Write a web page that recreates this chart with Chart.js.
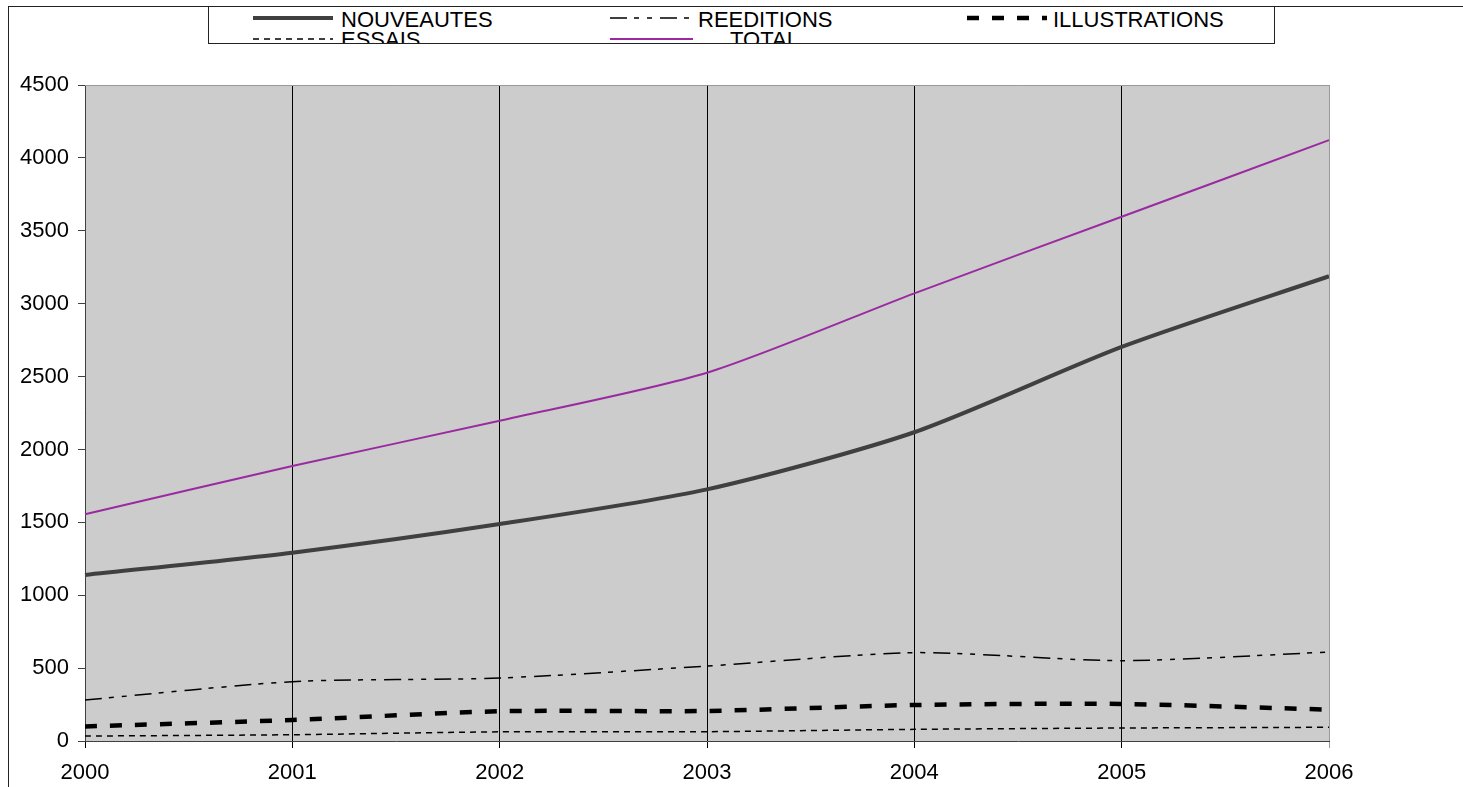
<!DOCTYPE html>
<html>
<head>
<meta charset="utf-8">
<script src="https://cdn.jsdelivr.net/npm/chart.js@4.4.0/dist/chart.umd.min.js"></script>
<style>
    body { margin: 0; background: #fff; font-family: "Liberation Sans", Arial, sans-serif; }
    #frame { position: absolute; left: 8px; top: 6px; width: 1470px; height: 800px; border-top: 1px solid #222; border-left: 1px solid #222; }
    #chart { position: absolute; left: 0; top: 0; }
    #legend { position: absolute; left: 208px; top: 7px; width: 1065px; height: 36px; border: 1px solid #222; border-top: none; overflow: hidden; background: #fff; }
    .lbl { position: absolute; font-size: 22px; line-height: 22px; white-space: nowrap; color: #000; }
    .smp { position: absolute; }
</style>
</head>
<body>
<div id="frame"></div>
<canvas id="chart" width="1463" height="787"></canvas>
<div id="legend"></div>
<script>
// data
const years = ['2000', '2001', '2002', '2003', '2004', '2005', '2006'];
const nouveautes = [1139, 1292, 1488, 1726, 2118, 2703, 3188];
const reeditions = [281, 407, 432, 514, 606, 551, 610];
const illustrations = [100, 144, 204, 206, 247, 254, 215];
const essais = [34, 43, 63, 64, 80, 89, 94];
const total = [1555, 1886, 2197, 2526, 3071, 3596, 4122];

const seriesNames = ['NOUVEAUTES', 'REEDITIONS', 'ILLUSTRATIONS', 'ESSAIS', 'TOTAL'];
const seriesData = [nouveautes, reeditions, illustrations, essais, total];

const styles = [
    { color: '#404040', width: 4, dash: [] },
    { color: '#000000', width: 1.5, dash: [17, 7, 5, 8, 5, 8] },
    { color: '#000000', width: 4.5, dash: [12, 13] },
    { color: '#000000', width: 1.5, dash: [6, 5] },
    { color: '#9a2aa0', width: 2, dash: [] }
];

const datasets = seriesNames.map((name, i) => ({
    label: name,
    data: seriesData[i],
    borderColor: styles[i].color,
    borderWidth: styles[i].width,
    borderDash: styles[i].dash,
    pointRadius: 0,
    fill: false,
    tension: 0.25
}));

// grey plot area + light frame on top and right
const plotBg = {
    id: 'plotBg',
    beforeDraw(chart) {
        const a = chart.chartArea;
        const ctx = chart.ctx;
        ctx.save();
        ctx.fillStyle = '#cccccc';
        ctx.fillRect(a.left, a.top, a.right - a.left, a.bottom - a.top);
        ctx.restore();
    },
    afterDraw(chart) {
        const a = chart.chartArea;
        const ctx = chart.ctx;
        ctx.save();
        ctx.strokeStyle = '#999999';
        ctx.lineWidth = 1;
        ctx.beginPath();
        ctx.moveTo(a.left, a.top + 0.5);
        ctx.lineTo(a.right + 0.5, a.top + 0.5);
        ctx.lineTo(a.right + 0.5, a.bottom);
        ctx.stroke();
        ctx.restore();
    }
};

const tickFont = { family: '"Liberation Sans", Arial, sans-serif', size: 22 };

new Chart(document.getElementById('chart').getContext('2d'), {
    type: 'line',
    data: { labels: years, datasets: datasets },
    options: {
        responsive: false,
        animation: false,
        layout: { padding: { left: 0, top: 85, right: 134, bottom: 0 } },
        plugins: { legend: { display: false }, tooltip: { enabled: false } },
        scales: {
            x: {
                offset: false,
                grid: {
                    color: (c) => c.index === years.length - 1 ? '#999999' : '#000000',
                    lineWidth: 1,
                    tickLength: 7
                },
                border: { color: '#404040', width: 1 },
                ticks: { color: '#000', font: tickFont, padding: 12, maxRotation: 0, autoSkip: false },
                afterFit: (s) => { s.height = 46; }
            },
            y: {
                min: 0,
                max: 4500,
                grid: { drawOnChartArea: false, color: '#404040', tickLength: 7 },
                border: { color: '#404040', width: 1 },
                ticks: { stepSize: 500, color: '#000', font: tickFont, padding: 9, callback: (v) => String(v) },
                afterFit: (s) => { s.width = 85; }
            }
        }
    },
    plugins: [plotBg]
});

// legend: three columns, second row cut by the box edge
const legendPos = [
    { lx: 44, ly: 11, tx: 132, ty: 2 },
    { lx: 401, ly: 11, tx: 489, ty: 2 },
    { lx: 758, ly: 11, tx: 844, ty: 2 },
    { lx: 44, ly: 32, tx: 132, ty: 22 },
    { lx: 401, ly: 32, tx: 521, ty: 22 }
];
const legend = document.getElementById('legend');
seriesNames.forEach((name, i) => {
    const p = legendPos[i];
    const st = styles[i];
    const len = i === 4 ? 83 : 80;
    const svg = document.createElementNS('http://www.w3.org/2000/svg', 'svg');
    svg.setAttribute('class', 'smp');
    svg.setAttribute('width', len);
    svg.setAttribute('height', 10);
    svg.style.left = p.lx + 'px';
    svg.style.top = (p.ly - 5) + 'px';
    const ln = document.createElementNS('http://www.w3.org/2000/svg', 'line');
    ln.setAttribute('x1', 0);
    ln.setAttribute('x2', len);
    ln.setAttribute('y1', 5);
    ln.setAttribute('y2', 5);
    ln.setAttribute('stroke', st.color);
    ln.setAttribute('stroke-width', st.width);
    if (st.dash.length) ln.setAttribute('stroke-dasharray', st.dash.join(' '));
    svg.appendChild(ln);
    legend.appendChild(svg);
    const t = document.createElement('div');
    t.className = 'lbl';
    t.style.left = p.tx + 'px';
    t.style.top = p.ty + 'px';
    t.textContent = name;
    legend.appendChild(t);
});
</script>
</body>
</html>
